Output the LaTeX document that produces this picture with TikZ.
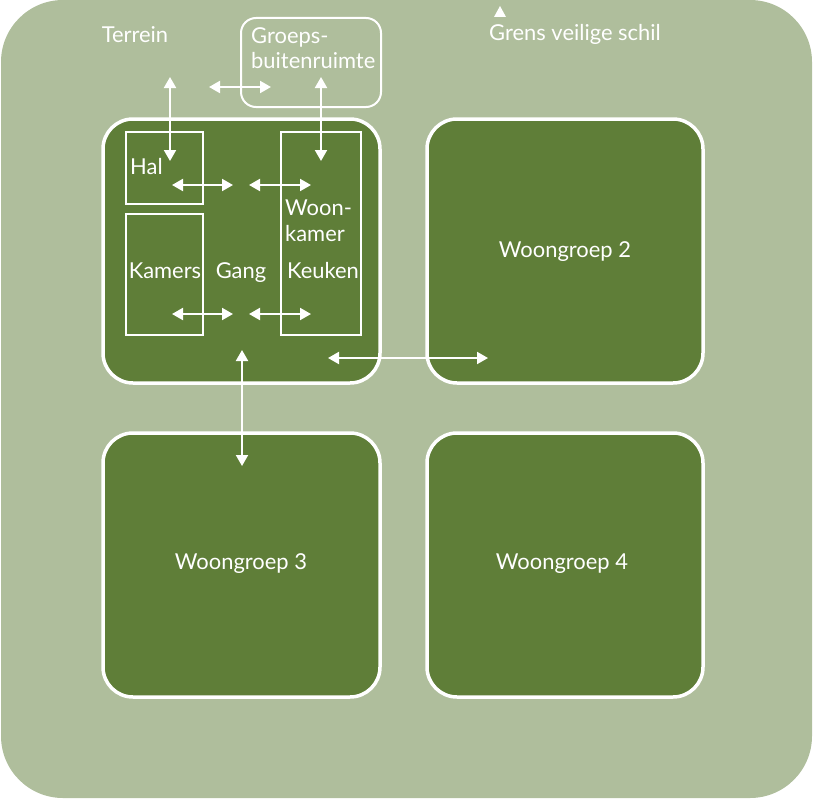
\documentclass[tikz,border=0pt]{standalone}
\usepackage{fontspec}
\setmainfont{Lato}
\usetikzlibrary{arrows.meta}
\definecolor{sage}{RGB}{175,190,156}
\definecolor{leaf}{RGB}{95,126,56}
\begin{document}
\begin{tikzpicture}[x=1bp,y=-1bp,
  txt/.style={text=white,font=\fontsize{22}{25.5}\selectfont,inner sep=0pt},
  group/.style={draw=white,line width=3.5bp,fill=leaf,rounded corners=30bp},
  room/.style={draw=white,line width=2.2bp},
  link/.style={white,line width=1.9bp,{Triangle[length=11bp,width=12bp]}-{Triangle[length=11bp,width=12bp]}}]
\useasboundingbox (0,0) rectangle (813,799);
% outer shell
\fill[sage,rounded corners=62bp] (1,0) rectangle (812,798);
% outdoor group space
\draw[white,line width=2bp,rounded corners=15bp] (241,18) rectangle (381,107);
\node[txt,anchor=base west,align=left] (buiten) at (251,69) {Groeps-\\buitenruimte};
\node[txt,anchor=base] (terrein) at (135,43) {Terrein};
\node[txt,anchor=base] (grens) at (575,41) {Grens veilige schil};
\fill[white] (494,17) -- (506,17) -- (500,6) -- cycle;
% living groups
\draw[group] (103,119) rectangle (380,383);
\draw[group] (427,119) rectangle (703,383);
\draw[group] (103,433) rectangle (380,697);
\draw[group] (427,433) rectangle (703,697);
\node[txt,anchor=base] (wg2) at (565,257) {Woongroep 2};
\node[txt,anchor=base] (wg3) at (241,569) {Woongroep 3};
\node[txt,anchor=base] (wg4) at (562,569) {Woongroep 4};
% rooms of group 1
\draw[room] (126,132) rectangle (203,204);
\draw[room] (126,214) rectangle (203,335);
\draw[room] (281,132) rectangle (361,335);
\node[txt,anchor=base west] (hal) at (130,174) {Hal};
\node[txt,anchor=base] (kamers) at (165,278) {Kamers};
\node[txt,anchor=base] (gang) at (241,278) {Gang};
\node[txt,anchor=base west,align=left] (woon) at (285,241) {Woon-\\kamer};
\node[txt,anchor=base] (keuken) at (323,278) {Keuken};
% connector end points
\coordinate (t1) at (170,77);  \coordinate (t2) at (170,161);
\coordinate (b1) at (321,77);  \coordinate (b2) at (321,161);
\coordinate (h1) at (209,87);  \coordinate (h2) at (271,87);
\coordinate (a1) at (172,185); \coordinate (a2) at (233,185);
\coordinate (a3) at (249,185); \coordinate (a4) at (311,185);
\coordinate (c1) at (172,314); \coordinate (c2) at (233,314);
\coordinate (c3) at (249,314); \coordinate (c4) at (311,314);
\coordinate (v1) at (242,350); \coordinate (v2) at (242,466);
\coordinate (r1) at (328,358); \coordinate (r2) at (488,358);
\draw[link] (t1) -- (t2);
\draw[link] (b1) -- (b2);
\draw[link] (h1) -- (h2);
\draw[link] (a1) -- (a2);
\draw[link] (a3) -- (a4);
\draw[link] (c1) -- (c2);
\draw[link] (c3) -- (c4);
\draw[link] (v1) -- (v2);
\draw[link] (r1) -- (r2);
\end{tikzpicture}
\end{document}
